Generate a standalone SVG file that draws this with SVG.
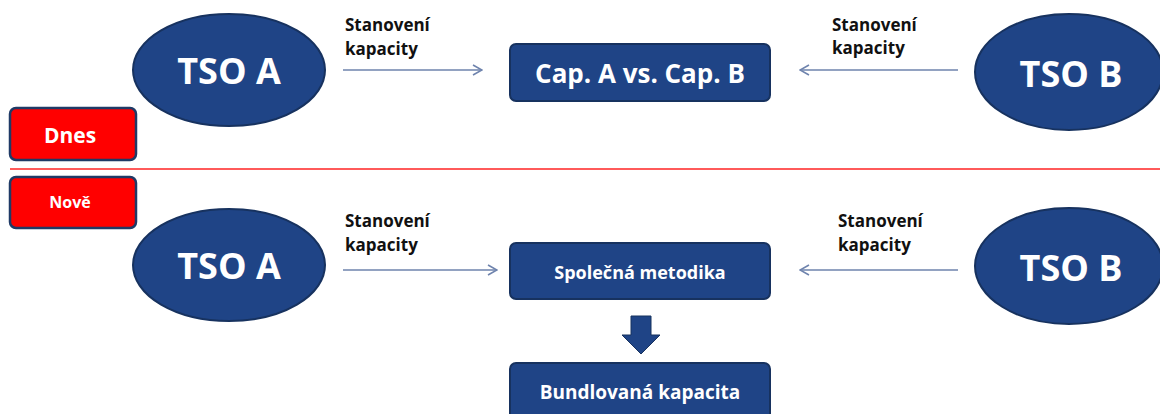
<svg xmlns="http://www.w3.org/2000/svg" width="1160" height="414" viewBox="0 0 1160 414">
<defs>
<style>
.node{fill:#1f4486;stroke:#17325f;stroke-width:2}
.tag{fill:#ff0000;stroke:#1f3a66;stroke-width:2.5}
.wt{fill:#fff;font-family:"Open Sans",sans-serif;font-weight:bold;text-anchor:middle}
.lbl{fill:#111;font-family:"Open Sans",sans-serif;font-weight:bold;font-size:17px}
.con{stroke:#6e83ad;stroke-width:1.6;fill:none}
</style>
<marker id="ah" viewBox="0 0 12 12" refX="11" refY="6" markerWidth="12" markerHeight="12" markerUnits="userSpaceOnUse" orient="auto">
<path d="M2,1 L11,6 L2,11" fill="none" stroke="#6e83ad" stroke-width="1.6"/>
</marker>
</defs>
<rect width="1160" height="414" fill="#fff"/>
<line x1="10" y1="169" x2="1160" y2="169" stroke="#ff5a5a" stroke-width="2"/>

<g id="dnes"><rect class="tag" x="10" y="108" width="126" height="52" rx="6"/><text class="wt" x="70" y="143" font-size="21">Dnes</text></g>
<g id="nove"><rect class="tag" x="10" y="177" width="126" height="51" rx="6"/><text class="wt" x="70" y="208" font-size="16">Nově</text></g>

<g id="tsoA1"><ellipse class="node" cx="229" cy="70" rx="96" ry="56"/><text class="wt" x="229" y="84" font-size="36">TSO A</text></g>
<g id="tsoB1"><ellipse class="node" cx="1069" cy="72" rx="94" ry="58"/><text class="wt" x="1071" y="87" font-size="36">TSO B</text></g>
<g id="cap"><rect class="node" x="510" y="44" width="260" height="57" rx="6"/><text class="wt" x="640" y="83" font-size="26">Cap. A vs. Cap. B</text></g>

<g id="tsoA2"><ellipse class="node" cx="229" cy="265" rx="96" ry="56"/><text class="wt" x="229" y="279" font-size="36">TSO A</text></g>
<g id="tsoB2"><ellipse class="node" cx="1069" cy="266" rx="94" ry="58"/><text class="wt" x="1071" y="281" font-size="36">TSO B</text></g>
<g id="spolecna"><rect class="node" x="510" y="243" width="260" height="56" rx="6"/><text class="wt" x="640" y="279" font-size="18">Společná metodika</text></g>
<g id="bundl"><rect class="node" x="510" y="363" width="260" height="60" rx="6"/><text class="wt" x="640" y="399" font-size="19">Bundlovaná kapacita</text></g>

<g id="labels">
<text class="lbl" x="345" y="31">Stanovení</text><text class="lbl" x="345" y="55">kapacity</text>
<text class="lbl" x="832" y="31">Stanovení</text><text class="lbl" x="832" y="54">kapacity</text>
<text class="lbl" x="345" y="227">Stanovení</text><text class="lbl" x="345" y="251">kapacity</text>
<text class="lbl" x="838" y="227">Stanovení</text><text class="lbl" x="838" y="251">kapacity</text>
</g>

<g id="connectors">
<line class="con" x1="343" y1="70" x2="482" y2="70" marker-end="url(#ah)"/>
<line class="con" x1="958" y1="70" x2="800" y2="70" marker-end="url(#ah)"/>
<line class="con" x1="343" y1="270" x2="497" y2="270" marker-end="url(#ah)"/>
<line class="con" x1="958" y1="270" x2="800" y2="270" marker-end="url(#ah)"/>
<path d="M631,316 H651 V335 H660 L641,354 L622,335 H631 Z" fill="#1f4486" stroke="#17325f" stroke-width="1"/>
</g>
</svg>
